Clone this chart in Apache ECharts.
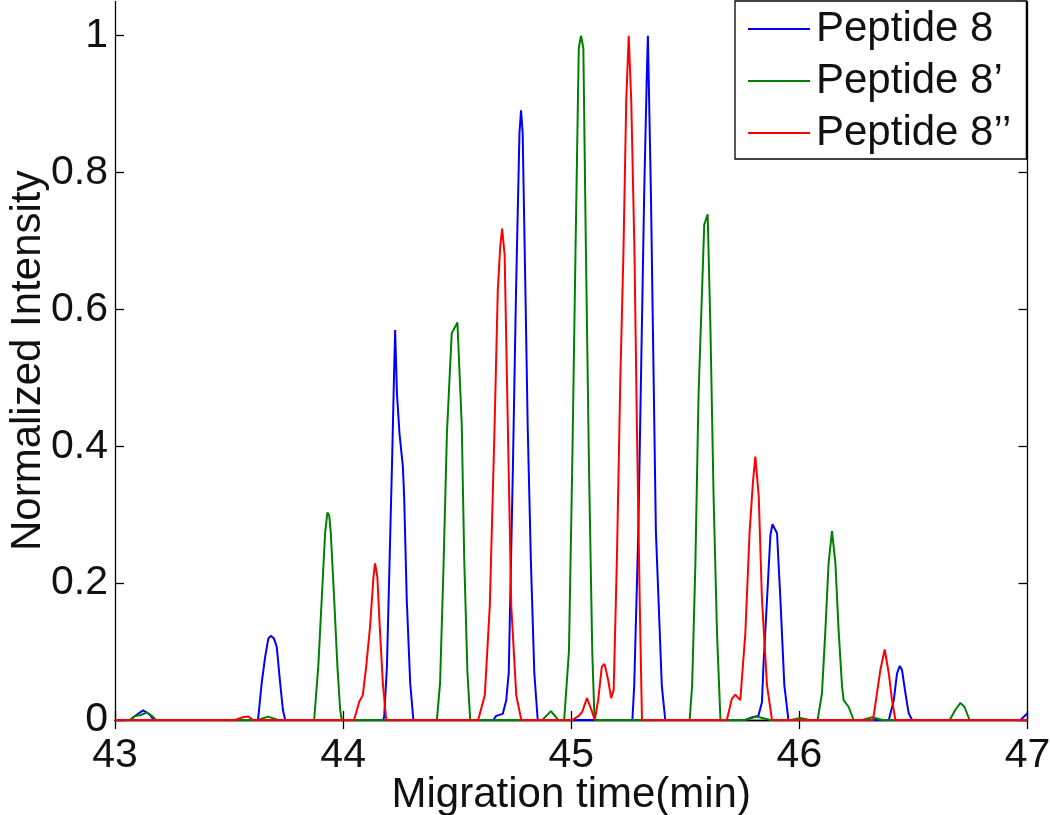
<!DOCTYPE html>
<html>
<head>
<meta charset="utf-8">
<script src="https://cdn.jsdelivr.net/npm/echarts@6/dist/echarts.min.js"></script>
<style>
html,body{margin:0;padding:0;background:#fff;}
#chart{width:1050px;height:815px;}
</style>
</head>
<body>
<div id="chart"></div>
<script>
// Series names (legend)
const seriesNames = ['Peptide 8', 'Peptide 8\u2019', 'Peptide 8\u2019\u2019'];
const seriesColors = ['#0000ff', '#008000', '#ff0000'];

// [migration time (min), normalized intensity]
const peptide8 = [
  [43.000,0],[43.066,0],[43.092,0.007],[43.123,0.014],[43.149,0.009],[43.171,0],
  [43.627,0],[43.643,0.054],[43.658,0.092],[43.672,0.119],[43.683,0.123],[43.697,0.119],[43.709,0.107],[43.724,0.054],[43.736,0.015],[43.746,0],
  [44.175,0],[44.180,0.005],[44.192,0.078],[44.203,0.224],[44.214,0.370],[44.224,0.516],[44.228,0.570],[44.236,0.477],[44.247,0.419],[44.262,0.370],[44.268,0.321],[44.279,0.175],[44.294,0.054],[44.308,0],
  [44.658,0],[44.671,0.006],[44.700,0.009],[44.715,0.029],[44.726,0.069],[44.744,0.365],[44.758,0.628],[44.773,0.858],[44.780,0.891],[44.787,0.858],[44.799,0.628],[44.809,0.430],[44.823,0.233],[44.838,0.069],[44.853,0],
  [45.268,0],[45.276,0.050],[45.294,0.276],[45.320,0.774],[45.332,0.953],[45.336,1.0],[45.349,0.774],[45.371,0.276],[45.397,0.050],[45.412,0],
  [45.763,0],[45.794,0.004],[45.820,0.006],[45.836,0.026],[45.842,0.076],[45.858,0.175],[45.873,0.270],[45.882,0.286],[45.902,0.273],[45.917,0.175],[45.934,0.051],[45.952,0],
  [46.392,0],[46.414,0.029],[46.428,0.068],[46.440,0.079],[46.450,0.073],[46.465,0.039],[46.479,0.010],[46.494,0],
  [46.969,0],[47.000,0.010]
];

const peptide8p = [
  [43.000,0],[43.066,0],[43.088,0.006],[43.110,0.007],[43.139,0.011],[43.162,0.006],[43.180,0],
  [43.627,0],[43.671,0.005],[43.715,0],
  [43.873,0],[43.891,0.078],[43.906,0.175],[43.921,0.273],[43.931,0.303],[43.939,0.299],[43.946,0.273],[43.961,0.175],[43.975,0.078],[43.987,0.015],[43.994,0],
  [44.411,0],[44.425,0.054],[44.440,0.224],[44.455,0.419],[44.476,0.565],[44.501,0.581],[44.520,0.431],[44.531,0.233],[44.545,0.069],[44.557,0],
  [44.873,0],[44.911,0.013],[44.943,0],
  [44.969,0],[44.990,0.101],[45.004,0.365],[45.019,0.693],[45.033,0.982],[45.043,1.0],[45.053,0.982],[45.064,0.693],[45.078,0.365],[45.092,0.101],[45.102,0],
  [45.519,0],[45.530,0.051],[45.544,0.226],[45.558,0.475],[45.583,0.724],[45.598,0.739],[45.610,0.574],[45.624,0.326],[45.639,0.126],[45.654,0],
  [45.763,0],[45.811,0.005],[45.873,0],[45.965,0],[46.004,0.003],[46.044,0],
  [46.080,0],[46.099,0.039],[46.114,0.131],[46.128,0.229],[46.143,0.276],[46.158,0.229],[46.172,0.131],[46.187,0.049],[46.194,0.029],[46.216,0.019],[46.238,0],
  [46.276,0],[46.320,0.004],[46.364,0],
  [46.659,0],[46.684,0.015],[46.706,0.025],[46.724,0.019],[46.746,0],[47.000,0]
];

const peptide8pp = [
  [43.000,0],[43.526,0],[43.561,0.004],[43.585,0.005],[43.605,0],
  [44.048,0],[44.071,0.027],[44.086,0.036],[44.101,0.078],[44.118,0.136],[44.133,0.209],[44.140,0.229],[44.150,0.209],[44.162,0.127],[44.174,0.054],[44.189,0],
  [44.592,0],[44.621,0.036],[44.643,0.167],[44.664,0.430],[44.678,0.628],[44.689,0.693],[44.697,0.718],[44.708,0.680],[44.722,0.430],[44.737,0.167],[44.759,0.036],[44.781,0],
  [45.004,0],[45.033,0.006],[45.048,0.012],[45.069,0.032],[45.088,0.015],[45.103,0],[45.118,0.029],[45.134,0.078],[45.146,0.082],[45.162,0.058],[45.175,0.032],[45.186,0.044],[45.200,0.233],[45.215,0.496],[45.229,0.686],[45.241,0.905],[45.252,1.0],[45.263,0.905],[45.277,0.686],[45.288,0.425],[45.300,0.176],[45.310,0],
  [45.682,0],[45.704,0.031],[45.719,0.037],[45.741,0.029],[45.763,0.126],[45.782,0.276],[45.797,0.350],[45.807,0.385],[45.822,0.326],[45.836,0.176],[45.858,0.051],[45.880,0],
  [46.323,0],[46.340,0.039],[46.355,0.073],[46.374,0.103],[46.392,0.068],[46.406,0.029],[46.421,0],[47.000,0]
];

const xTickMin = 43, xTickMax = 47, xTickStep = 1;
const yTickMin = 0, yTickMax = 1.05, yTickStep = 0.2;

const FONT = "'Liberation Sans', Arial, Helvetica, sans-serif";
const chart = echarts.init(document.getElementById('chart'), null, {renderer: 'canvas'});

const axisLine = {show: true, lineStyle: {color: '#000', width: 1.3}};
const axisTick = {show: true, inside: true, length: 9, lineStyle: {color: '#000', width: 1.3}};

const option = {
  animation: false,
  backgroundColor: '#fff',
  textStyle: {fontFamily: FONT},
  grid: {left: 115, top: 1.5, width: 912.5, height: 718.5, show: false, containLabel: false, outerBoundsMode: 'none'},
  legend: {
    orient: 'vertical', left: 735, top: 1,
    backgroundColor: '#fff', borderColor: '#000', borderWidth: 1.3, borderRadius: 0,
    padding: [7, 15, 5, 13], itemWidth: 62, itemHeight: 2, itemGap: 10,
    icon: 'rect',
    textStyle: {fontSize: 42, color: '#111', lineHeight: 40, fontFamily: FONT, padding: [0, 0, 0, 1]},
    data: seriesNames
  },
  xAxis: [
    {type: 'value', position: 'bottom', min: xTickMin, max: xTickMax, interval: xTickStep,
     axisLine, axisTick, splitLine: {show: false},
     axisLabel: {fontSize: 41, color: '#111', margin: 15, fontFamily: FONT},
     name: 'Migration time(min)', nameLocation: 'middle', nameGap: 54, nameMoveOverlap: false,
     nameTextStyle: {fontSize: 42, color: '#111', fontFamily: FONT, lineHeight: 42}},
    {type: 'value', position: 'top', min: xTickMin, max: xTickMax, interval: xTickStep,
     axisLine, axisTick, splitLine: {show: false}, axisLabel: {show: false}}
  ],
  yAxis: [
    {type: 'value', position: 'left', min: yTickMin, max: yTickMax, interval: yTickStep,
     axisLine, axisTick, splitLine: {show: false},
     axisLabel: {fontSize: 41, color: '#111', margin: 7, fontFamily: FONT, showMaxLabel: false,
       formatter: v => String(parseFloat(v.toFixed(2)))},
     name: 'Normalized Intensity', nameLocation: 'middle', nameGap: 66, nameMoveOverlap: false,
     nameTextStyle: {fontSize: 42, color: '#111', fontFamily: FONT, lineHeight: 42}},
    {type: 'value', position: 'right', min: yTickMin, max: yTickMax, interval: yTickStep,
     axisLine, axisTick, splitLine: {show: false}, axisLabel: {show: false}}
  ],
  series: [peptide8, peptide8p, peptide8pp].map((d, i) => ({
    name: seriesNames[i], type: 'line', data: d, xAxisIndex: 0, yAxisIndex: 0,
    symbol: 'none', smooth: false, z: 2 + i,
    lineStyle: {color: seriesColors[i], width: 2},
    itemStyle: {color: seriesColors[i]}
  }))
};
chart.setOption(option);
</script>
</body>
</html>
